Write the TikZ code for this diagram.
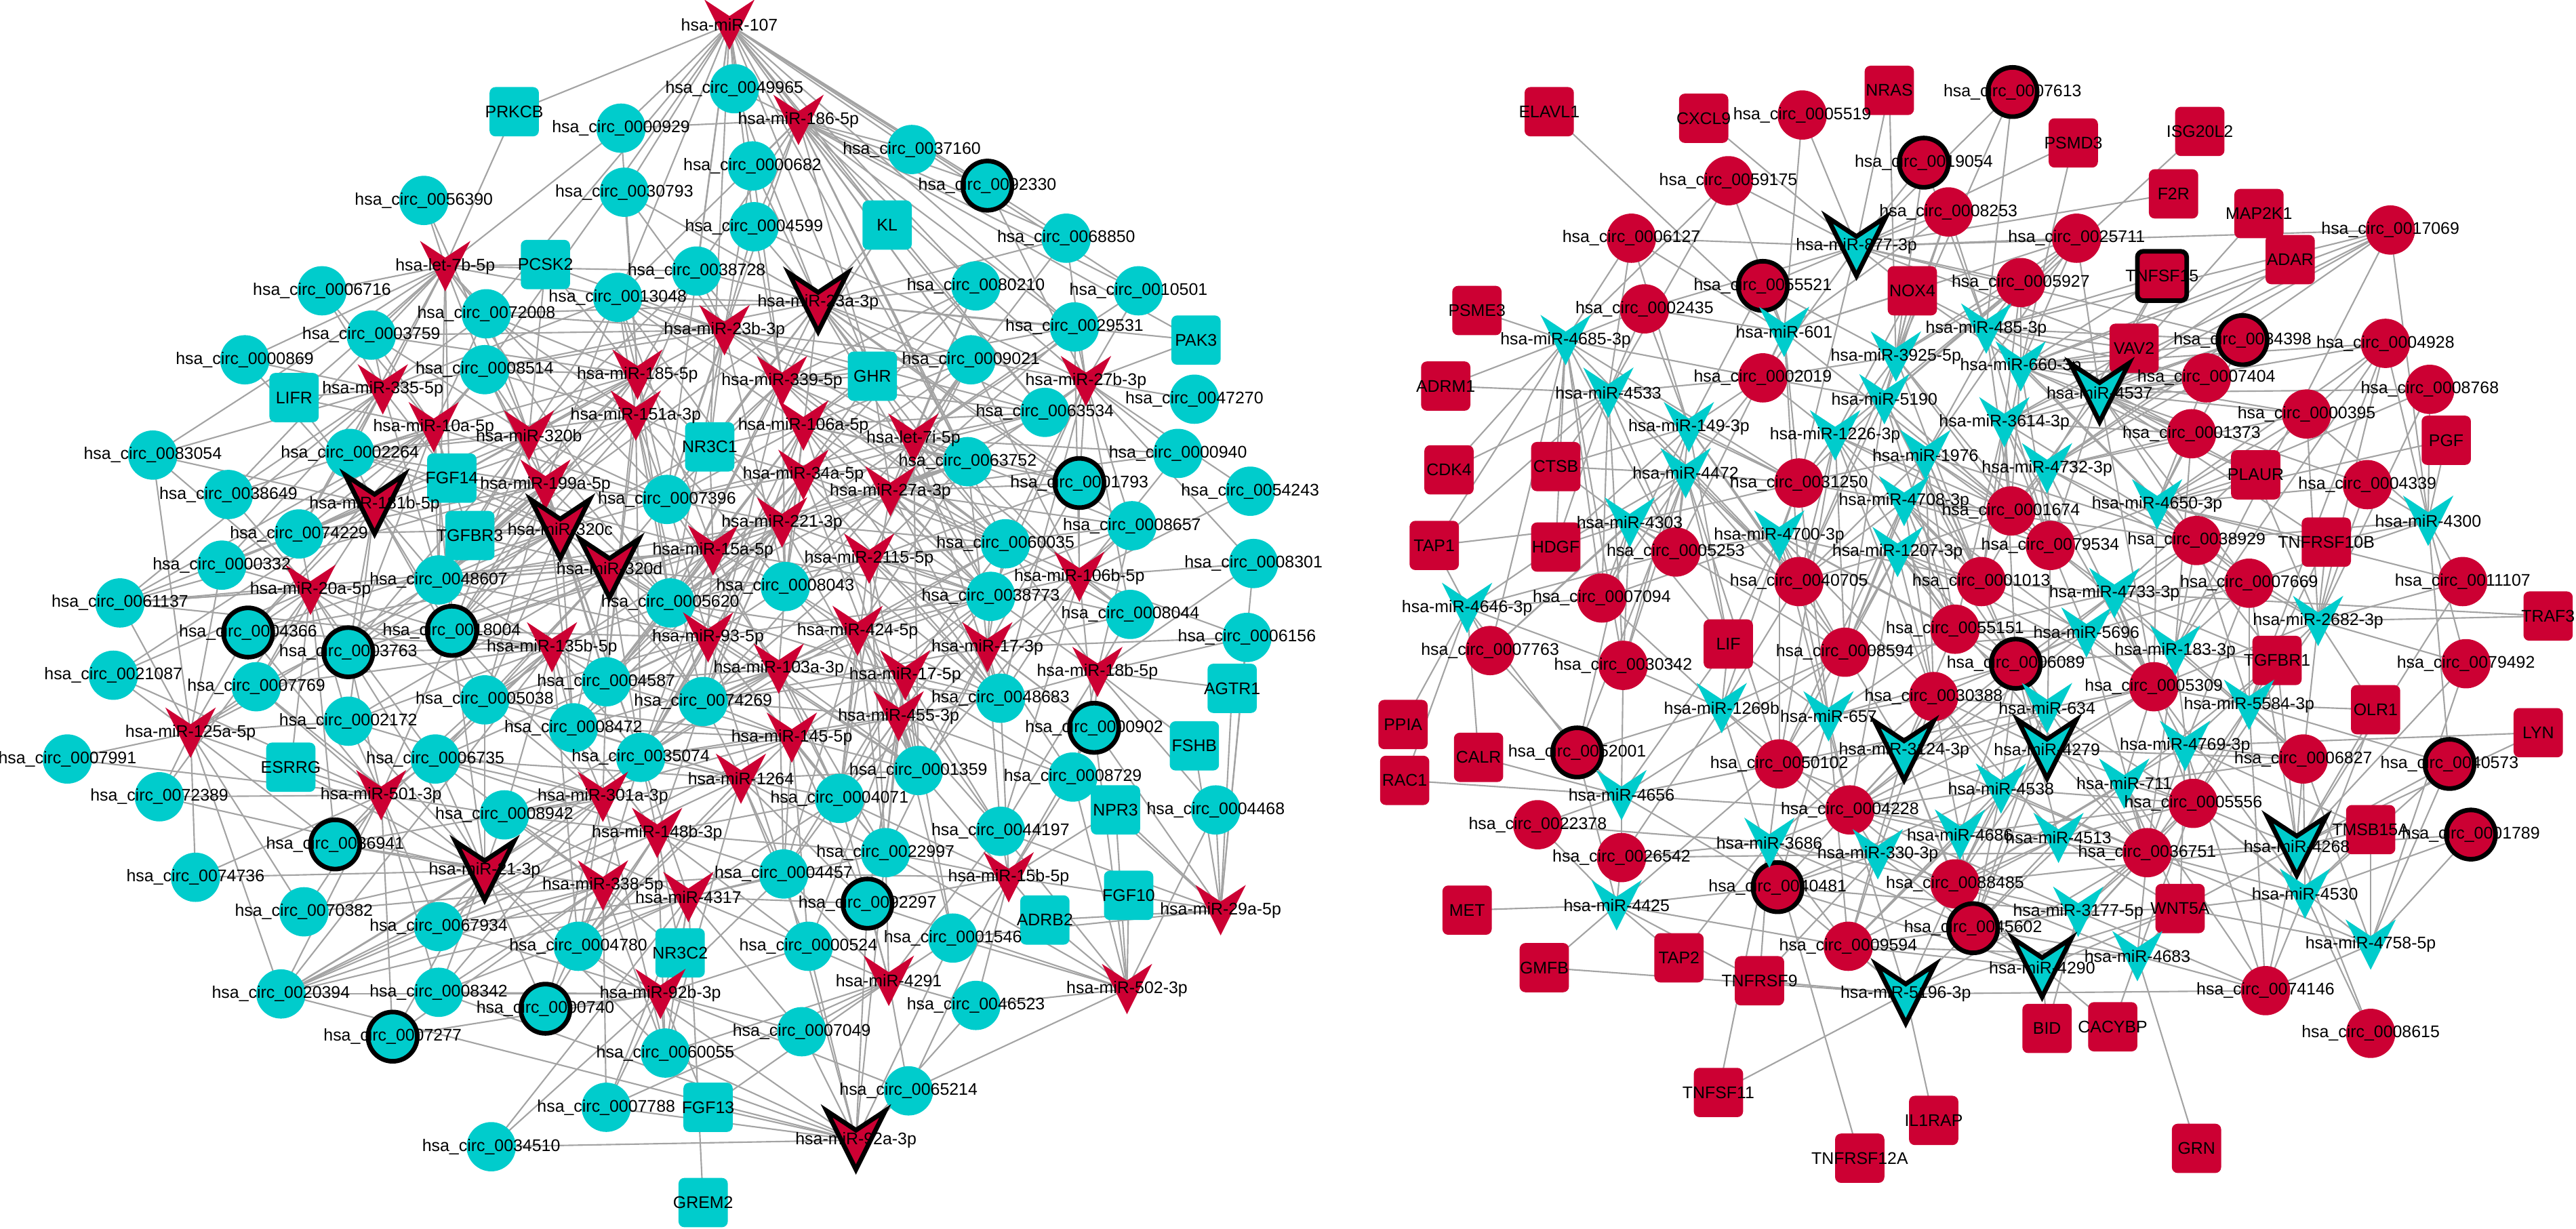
\documentclass[tikz,border=0pt]{standalone}
\usepackage{fontspec}
\setmainfont{Liberation Sans}
\usetikzlibrary{calc}

\definecolor{cyanN}{HTML}{00CCCC}
\definecolor{redN}{HTML}{CC0033}
\pgfdeclarelayer{bg}
\pgfsetlayers{bg,main}

\tikzset{
  circnode/.style={circle, inner sep=0pt, minimum size=6mm, draw=black, line width=1.6pt},
  genenode/.style={rectangle, rounded corners=2pt, inner sep=0pt, minimum size=6mm, draw=black, line width=1.6pt},
  mirnode/.style={rectangle, inner sep=0pt},
  mirv/.style={draw=black, line width=1.6pt, line join=miter},
  link/.style={draw=black!36, line width=0.5pt},
  lab/.style={font=\fontsize{5.85}{7}\selectfont, inner sep=0pt, text=black}
}

% left network
\newcommand\circsL{0049965/447/54/0, 0000929/378/78/0, 0037160/555/91/0, 0092330/601/113/1, 0000682/458/101/0, 0056390/258/122/0, 0030793/380/117/0, 0004599/459/138/0, 0068850/649/145/0, 0038728/424/165/0, 0080210/594/174/0, 0010501/693/177/0, 0006716/196/177/0, 0072008/296/191/0, 0013048/376/181/0, 0029531/654/199/0, 0003759/226/204/0, 0009021/591/219/0, 0000869/149/219/0, 0008514/295/225/0, 0047270/727/243/0, 0063534/636/251/0, 0083054/93/277/0, 0002264/213/276/0, 0000940/717/276/0, 0038649/139/301/0, 0063752/589/281/0, 0001793/657/294/1, 0054243/761/299/0, 0074229/182/325/0, 0007396/406/304/0, 0008657/689/320/0, 0000332/135/344/0, 0060035/612/331/0, 0008301/763/343/0, 0048607/267/353/0, 0005620/408/367/0, 0008043/478/357/0, 0038773/603/363/0, 0061137/73/367/0, 0004366/151/385/1, 0018004/275/384/1, 0008044/688/374/0, 0006156/759/388/0, 0003763/212/397/1, 0021087/69/411/0, 0007769/156/418/0, 0004587/369/415/0, 0074269/428/427/0, 0048683/609/425/0, 0005038/295/426/0, 0008472/349/443/0, 0002172/212/439/0, 0000902/666/443/1, 0007991/41/462/0, 0006735/265/462/0, 0035074/390/461/0, 0001359/559/469/0, 0008729/653/473/0, 0072389/97/485/0, 0004071/511/486/0, 0004468/740/493/0, 0008942/307/496/0, 0044197/609/506/0, 0022997/539/519/0, 0036941/204/514/1, 0074736/119/534/0, 0004457/477/532/0, 0092297/528/550/1, 0070382/185/555/0, 0067934/267/564/0, 0004780/352/576/0, 0000524/492/576/0, 0001546/580/571/0, 0020394/171/605/0, 0008342/267/604/0, 0000740/332/614/1, 0046523/594/612/0, 0007277/239/631/1, 0007049/488/628/0, 0060055/405/641/0, 0065214/553/664/0, 0007788/369/674/0, 0034510/299/698/0}
\newcommand\genesL{PRKCB/313/68/0, KL/540/137/0, PCSK2/332/161/0, PAK3/728/207/0, GHR/531/229/0, LIFR/179/242/0, NR3C1/432/272/0, FGF14/275/291/0, TGFBR3/286/326/0, AGTR1/750/419/0, ESRRG/177/467/0, FSHB/727/454/0, NPR3/679/493/0, FGF10/687/545/0, ADRB2/636/560/0, NR3C2/414/580/0, FGF13/431/674/0, GREM2/428/732/0}
\newcommand\mirsL{miR-107/444/15/0, miR-186-5p/486/73/0, let-7b-5p/271/162/0, miR-23a-3p/498/184/1, miR-23b-3p/441/201/0, miR-185-5p/388/228/0, miR-339-5p/476/232/0, miR-27b-3p/661/232/0, miR-335-5p/233/237/0, miR-10a-5p/264/260/0, miR-320b/322/265/0, miR-151a-3p/387/253/0, miR-106a-5p/489/259/0, let-7i-5p/556/267/0, miR-199a-5p/332/295/0, miR-181b-5p/228/307/1, miR-320c/341/322/1, miR-34a-5p/489/289/0, miR-27a-3p/542/299/0, miR-221-3p/476/318/0, miR-320d/371/346/1, miR-15a-5p/434/335/0, miR-2115-5p/529/340/0, miR-20a-5p/189/359/0, miR-106b-5p/657/351/0, miR-93-5p/431/388/0, miR-424-5p/522/384/0, miR-17-3p/601/394/0, miR-135b-5p/336/394/0, miR-103a-3p/474/407/0, miR-17-5p/551/411/0, miR-18b-5p/668/409/0, miR-455-3p/547/436/0, miR-125a-5p/116/446/0, miR-145-5p/482/449/0, miR-1264/451/474/0, miR-501-3p/232/484/0, miR-301a-3p/367/485/0, miR-148b-3p/400/507/0, miR-21-3p/295/530/1, miR-338-5p/367/539/0, miR-4317/419/546/0, miR-15b-5p/614/534/0, miR-29a-5p/743/554/0, miR-4291/541/597/0, miR-502-3p/686/602/0, miR-92b-3p/402/605/0, miR-92a-3p/521/694/1}

% right network
\newcommand\circsR{0005519/1097/70/0, 0007613/1225/56/1, 0019054/1171/99/1, 0059175/1052/110/0, 0008253/1186/129/0, 0025711/1264/145/0, 0006127/993/145/0, 0017069/1455/140/0, 0055521/1073/174/1, 0005927/1230/172/0, 0002435/1001/188/0, 0034398/1365/207/1, 0004928/1452/209/0, 0002019/1073/230/0, 0007404/1343/230/0, 0008768/1479/237/0, 0000395/1404/252/0, 0001373/1334/264/0, 0031250/1095/294/0, 0004339/1441/295/0, 0005253/1020/336/0, 0001674/1224/311/0, 0040705/1095/354/0, 0079534/1248/332/0, 0038929/1337/329/0, 0011107/1499/354/0, 0007094/975/364/0, 0001013/1206/354/0, 0007669/1369/355/0, 0007763/907/396/0, 0030342/988/405/0, 0008594/1123/397/0, 0055151/1190/383/0, 0006089/1227/404/1, 0079492/1501/404/0, 0030388/1177/424/0, 0005309/1311/418/0, 0052001/960/458/1, 0050102/1083/465/0, 0006827/1402/462/0, 0040573/1491/465/1, 0022378/936/502/0, 0004228/1126/493/0, 0005556/1335/489/0, 0001789/1504/508/1, 0026542/987/522/0, 0036751/1307/519/0, 0040481/1082/540/1, 0088485/1190/538/0, 0045602/1201/565/1, 0009594/1125/576/0, 0074146/1379/603/0, 0008615/1443/629/0}
\newcommand\genesR{ELAVL1/943/68/0, CXCL9/1037/72/0, NRAS/1150/55/0, PSMD3/1262/87/0, ISG20L2/1339/80/0, F2R/1323/118/0, MAP2K1/1375/130/0, ADAR/1394/158/0, TNFSF15/1316/168/1, PSME3/899/189/0, NOX4/1164/177/0, VAV2/1299/212/0, ADRM1/880/235/0, PGF/1489/268/0, CDK4/882/286/0, CTSB/947/284/0, PLAUR/1373/289/0, TAP1/873/332/0, HDGF/947/333/0, TNFRSF10B/1416/330/0, LIF/1052/392/0, TRAF3/1551/375/0, TGFBR1/1386/402/0, PPIA/854/441/0, OLR1/1446/432/0, LYN/1545/446/0, CALR/900/461/0, RAC1/855/475/0, TMSB15A/1443/505/0, MET/893/554/0, WNT5A/1327/553/0, GMFB/940/589/0, TAP2/1022/583/0, TNFRSF9/1071/597/0, BID/1246/626/0, CACYBP/1286/625/0, TNFSF11/1046/665/0, IL1RAP/1177/682/0, TNFRSF12A/1132/705/0, GRN/1337/699/0}
\newcommand\mirsR{miR-877-3p/1130/150/1, miR-4685-3p/953/207/0, miR-601/1086/202/0, miR-3925-5p/1154/217/0, miR-4533/979/239/0, miR-5190/1147/243/0, miR-485-3p/1209/200/0, miR-660-3p/1230/223/0, miR-4537/1278/239/1, miR-149-3p/1028/260/0, miR-1226-3p/1117/265/0, miR-1976/1172/277/0, miR-3614-3p/1220/257/0, miR-4472/1026/288/0, miR-4708-3p/1159/305/0, miR-4303/992/318/0, miR-4700-3p/1083/326/0, miR-1207-3p/1155/336/0, miR-4732-3p/1246/285/0, miR-4650-3p/1313/307/0, miR-4300/1478/317/0, miR-4733-3p/1287/361/0, miR-4646-3p/893/370/0, miR-2682-3p/1411/378/0, miR-5696/1270/385/0, miR-183-3p/1324/396/0, miR-634/1246/431/0, miR-5584-3p/1369/429/0, miR-1269b/1048/431/0, miR-657/1113/436/0, miR-3124-3p/1159/457/1, miR-4279/1246/456/1, miR-4769-3p/1330/454/0, miR-4538/1218/480/0, miR-711/1293/477/0, miR-4656/987/484/0, miR-3686/1077/513/0, miR-330-3p/1143/520/0, miR-4686/1193/508/0, miR-4513/1253/510/0, miR-4268/1398/515/1, miR-4530/1403/544/0, miR-3177-5p/1265/555/0, miR-4683/1301/582/0, miR-4290/1243/589/1, miR-4758-5p/1443/575/0, miR-5196-3p/1160/605/1, miR-4425/984/551/0}

\begin{document}
\begin{tikzpicture}[x=0.02cm, y=-0.02cm]
\useasboundingbox (0,0) rectangle (1568,748);

% nodes
\foreach \id/\px/\py/\rg in \circsL
  \node[circnode, fill=cyanN, draw opacity=\rg] (c\id) at (\px,\py) {};
\foreach \nm/\px/\py/\rg in \genesL
  \node[genenode, fill=cyanN, draw opacity=\rg] (\nm) at (\px,\py) {};
\foreach \nm/\px/\py/\rg in \mirsL {
  \node[mirnode, minimum size={(6+\rg)*1mm}] (\nm) at (\px,\py) {};
  \filldraw[mirv, fill=redN, draw opacity=\rg] (\nm.north west) -- ($(\nm.north)!.33!(\nm.south)$) -- (\nm.north east) -- (\nm.south) -- cycle;
}
\foreach \id/\px/\py/\rg in \circsR
  \node[circnode, fill=redN, draw opacity=\rg] (c\id) at (\px,\py) {};
\foreach \nm/\px/\py/\rg in \genesR
  \node[genenode, fill=redN, draw opacity=\rg] (\nm) at (\px,\py) {};
\foreach \nm/\px/\py/\rg in \mirsR {
  \node[mirnode, minimum size={(6+\rg)*1mm}] (\nm) at (\px,\py) {};
  \filldraw[mirv, fill=cyanN, draw opacity=\rg] (\nm.north west) -- ($(\nm.north)!.33!(\nm.south)$) -- (\nm.north east) -- (\nm.south) -- cycle;
}

% interactions
\begin{pgfonlayer}{bg}
\foreach \nm/\ts in {
  miR-107/{c0049965,c0000929,c0000682,c0030793,c0004599,c0038728,c0013048,c0037160,c0092330,c0080210,c0072008,PRKCB,KL,c0009021,c0068850,GHR,c0007396,c0063534,c0029531,c0010501,c0063752,NR3C1,c0008514},
  miR-186-5p/{c0049965,c0000682,c0004599,c0037160,c0092330,c0068850,KL,c0080210,c0029531,c0009021,c0038728,c0063752,c0010501,PAK3,c0000929,c0007396,c0063534,GHR,c0013048,c0060035},
  let-7b-5p/{c0056390,PCSK2,c0072008,c0006716,c0003759,c0008514,c0013048,PRKCB,c0000929,c0048607,c0002264,c0007396,c0005620,c0038728,c0000869,c0083054,c0074229,c0038649,LIFR,c0018004},
  miR-23a-3p/{c0004599,c0000682,c0038728,c0013048,KL,GHR,c0080210,c0009021,c0068850,c0029531,c0063534,c0007396,c0072008,c0063752,c0060035,c0008043,c0005620,PAK3,c0030793,c0049965,c0001793,c0008657,NR3C1,c0038773,c0008514,c0048607},
  miR-23b-3p/{c0038728,c0013048,c0030793,c0004599,c0072008,c0008514,c0007396,GHR,c0009021,c0063534,NR3C1,c0005620,c0003759,PCSK2,c0000682,c0063752,c0008043,FGF14,c0048607,c0060035},
  miR-185-5p/{c0013048,c0030793,c0072008,c0008514,PCSK2,c0038728,FGF14,c0007396,c0048607,TGFBR3,c0005620,c0002264,c0000929,c0018004,c0004587,NR3C1,c0003759,c0074229},
  miR-339-5p/{c0004599,c0038728,c0013048,GHR,KL,c0009021,c0007396,c0063752,NR3C1,c0008043,c0060035,c0080210,c0000682,c0063534,c0038773,c0005620,c0074269,c0029531},
  miR-27b-3p/{c0029531,c0010501,PAK3,c0047270,c0009021,c0080210,c0063534,c0000940,c0054243,c0001793,c0008657,c0063752,c0068850,c0060035,c0092330,c0008301,c0038773,c0048683,c0008044,c0004599},
  miR-335-5p/{LIFR,c0003759,c0000869,c0006716,c0008514,c0002264,c0038649,c0074229,c0072008,c0083054,FGF14,c0061137,c0000332,c0048607,c0013048},
  miR-10a-5p/{c0002264,c0008514,c0072008,c0003759,FGF14,c0074229,c0038649,LIFR,c0048607,TGFBR3,c0000332,c0061137,c0006716,c0018004,c0004366,c0003763,c0007396},
  miR-320b/{c0008514,c0013048,FGF14,TGFBR3,c0002264,c0048607,c0072008,c0007396,c0005620,c0018004,c0038728,PCSK2,c0056390,c0074229,c0003759,c0004587,c0003763},
  miR-151a-3p/{c0013048,c0007396,NR3C1,c0038728,c0008514,FGF14,c0005620,c0048607,c0004587,c0008043,c0072008,c0002264,c0018004,c0074269,c0035074},
  miR-106a-5p/{NR3C1,c0007396,c0063752,c0063534,GHR,c0009021,c0005620,c0008043,c0060035,c0038773,c0074269,c0001793,c0004587,c0080210,c0013048,c0048683,c0035074,c0001359},
  let-7i-5p/{c0063534,c0063752,c0009021,GHR,c0001793,c0060035,c0038773,c0008043,c0007396,c0008657,c0048683,c0080210,c0029531,c0068850,c0010501,c0000940,c0005620,c0001359,c0008044},
  miR-199a-5p/{FGF14,TGFBR3,c0048607,c0018004,c0008514,c0007396,c0005620,c0002264,c0074229,c0004587,c0005038,c0013048,c0003763,c0008472,c0035074,c0061137},
  miR-181b-5p/{c0002264,c0074229,c0038649,c0000332,FGF14,TGFBR3,c0048607,c0004366,c0003763,c0018004,c0061137,c0083054,LIFR,c0007769,c0000869,c0005038,c0008514,c0002172,c0021087},
  miR-320c/{TGFBR3,c0048607,c0018004,c0005620,c0007396,c0004587,c0005038,c0008472,c0003763,FGF14,NR3C1,c0074269,c0008514,c0002264,c0074229,c0035074,c0007769,c0004366},
  miR-34a-5p/{NR3C1,c0007396,c0063752,c0008043,c0005620,c0060035,c0038773,GHR,c0074269,c0063534,c0004587,c0080210,c0009021,c0001359,c0035074,c0048683},
  miR-27a-3p/{c0063752,c0063534,c0060035,c0038773,c0008043,c0001793,c0009021,c0048683,c0008657,GHR,c0005620,c0000940,c0029531,c0080210,c0004071,c0008044,c0074269},
  miR-221-3p/{c0007396,c0008043,c0005620,NR3C1,c0063752,c0060035,c0074269,c0004587,c0038773,c0035074,c0048607,c0013048,c0008472,c0048683,c0001359,c0018004},
  miR-320d/{c0005620,c0004587,c0018004,TGFBR3,c0048607,c0007396,c0074269,c0008472,c0005038,c0003763,c0035074,c0008043,c0061137,c0002172,c0006735,c0001359,c0063752,c0004366},
  miR-15a-5p/{c0005620,c0007396,NR3C1,c0008043,c0074269,c0004587,c0035074,c0048607,c0018004,c0063752,c0008472,c0061137,c0013048,c0005038,c0004071,c0038773,c0002264},
  miR-2115-5p/{c0008043,c0060035,c0038773,c0063752,c0048683,c0005620,c0001359,c0074269,c0001793,c0008657,c0009021,c0008044,c0004071,c0000902,c0022997},
  miR-20a-5p/{c0000332,c0074229,c0004366,c0003763,c0007769,c0061137,c0048607,c0018004,c0021087,c0002172,c0038649,ESRRG,c0005038,c0006735,c0036941,c0072389,c0083054},
  miR-106b-5p/{c0060035,c0038773,c0008657,c0008044,c0001793,c0054243,c0008301,c0006156,c0048683,c0000902,c0063752,c0000940,c0029531,c0009021,c0044197,c0001359},
  miR-93-5p/{c0005620,c0074269,c0004587,c0008043,c0035074,c0008472,c0007396,c0005038,c0048607,c0001359,c0004071,c0018004,c0004457,c0022997,c0038773,c0006735},
  miR-424-5p/{c0008043,c0038773,c0048683,c0060035,c0074269,c0001359,c0004071,c0005620,c0063752,c0004457,c0022997,c0044197,c0008657,c0035074},
  miR-17-3p/{c0038773,c0048683,c0060035,c0008044,c0008657,c0001359,c0000902,c0008729,c0044197,c0063752,c0004071,c0022997,c0001793,c0006156,c0074269},
  miR-135b-5p/{c0018004,c0005038,c0008472,c0004587,c0003763,c0048607,c0006735,c0002172,c0035074,c0005620,c0074269,c0061137,c0020394,c0007769,c0008942,c0004780,c0036941,c0004366},
  miR-103a-3p/{c0074269,c0008043,c0004587,c0035074,c0004071,c0001359,c0005620,c0004457,c0008472,c0038773,c0022997,c0008942,c0048683,c0060035,c0007396},
  miR-17-5p/{c0048683,c0038773,c0001359,c0004071,c0008043,c0060035,c0022997,c0044197,c0074269,c0004457,c0092297,c0001546,c0005620,c0008729},
  miR-18b-5p/{c0008044,c0048683,c0000902,c0008729,c0006156,AGTR1,c0038773,c0008301,FSHB,c0060035,c0044197,c0004468,c0008657},
  miR-455-3p/{c0048683,c0001359,c0004071,c0022997,c0074269,c0038773,c0044197,c0008043,c0004457,c0092297,c0001546,c0000524,c0008729,c0035074},
  miR-125a-5p/{c0021087,c0007991,c0072389,c0007769,c0004366,c0061137,c0074736,c0002172,ESRRG,c0036941,c0000332,c0083054,c0003763,c0070382,c0020394,c0048607},
  miR-145-5p/{c0074269,c0035074,c0004071,c0001359,c0004457,c0004587,c0008472,c0022997,c0048683,c0008942,c0020394,c0092297,c0000524,c0004780,c0005038,c0038773},
  miR-1264/{c0035074,c0074269,c0004071,c0004457,c0008942,c0004780,c0000524,c0022997,c0008472,c0020394,c0001359,c0092297,c0060055,c0006735,c0005038},
  miR-501-3p/{c0002172,c0006735,ESRRG,c0036941,c0005038,c0007769,c0003763,c0008942,c0072389,c0070382,c0067934,c0020394,c0074736,c0021087,c0007991,c0004366,c0018004,c0008342,c0007277},
  miR-301a-3p/{c0035074,c0008472,c0008942,c0006735,c0005038,c0004587,c0004780,c0074269,c0002172,c0067934,c0020394,c0036941,c0008342,c0000740,c0060055,c0018004},
  miR-148b-3p/{c0008942,c0035074,c0004780,c0004457,c0004071,c0000524,c0008472,c0074269,NR3C2,c0020394,c0067934,c0000740,c0022997,c0006735,c0060055},
  miR-21-3p/{c0008942,c0036941,c0006735,c0067934,c0070382,c0004780,c0002172,ESRRG,c0008342,c0000740,c0020394,c0035074,c0005038,c0007277,c0074736,c0072389,c0007769,c0003763,c0018004,c0060055},
  miR-338-5p/{c0004780,c0008942,c0067934,c0000740,NR3C2,c0035074,c0008342,c0006735,c0060055,c0020394,c0007277,c0004457,c0036941,c0070382,c0007788},
  miR-4317/{NR3C2,c0004780,c0004457,c0000524,c0008942,c0060055,c0035074,c0022997,c0092297,GREM2,c0034510,c0020394,c0007049,c0067934,c0008342,c0007788,c0004071},
  miR-15b-5p/{c0044197,c0022997,c0001546,ADRB2,c0092297,c0008729,FGF10,c0000902,c0004457,c0048683,NPR3,c0001359,c0046523,c0065214,c0004071},
  miR-29a-5p/{FGF10,c0004468,NPR3,ADRB2,c0008729,FSHB,c0001546,c0044197,AGTR1,c0000902,c0006156,c0008301},
  miR-4291/{c0000524,c0092297,c0001546,c0046523,c0007049,c0065214,c0022997,c0004457,c0060055,c0044197,c0004071,c0007788,FGF13},
  miR-502-3p/{ADRB2,FGF10,c0001546,c0046523,c0044197,NPR3,c0092297,c0065214,c0004468,c0008729,c0000902,c0022997},
  miR-92b-3p/{NR3C2,c0060055,c0004780,c0000740,c0007788,c0000524,c0007049,c0008342,FGF13,c0007277,c0020394,c0004457,c0067934,c0034510,c0065214},
  miR-92a-3p/{c0065214,c0007049,c0060055,FGF13,c0007788,c0046523,c0001546,c0000524,c0034510,c0092297,c0004457,c0022997,c0020394,c0008342,c0004780},
  miR-877-3p/{c0005519,c0019054,c0059175,c0008253,c0055521,NOX4,c0006127,c0002435,c0005927,c0025711,NRAS,c0002019,CXCL9,c0007613,F2R,c0017069,c0031250,VAV2,c0034398,PSMD3},
  miR-4685-3p/{PSME3,c0006127,c0002435,ADRM1,c0002019,CTSB,c0005253,c0007094,HDGF,c0031250,c0040705,c0059175,c0030342,c0007763,TAP1,CDK4},
  miR-601/{c0055521,c0002435,c0006127,c0002019,c0059175,c0031250,c0005519,NOX4,c0008253,ELAVL1,c0040705,c0005253,c0025711,c0001674},
  miR-3925-5p/{NOX4,c0002019,c0055521,c0008253,c0005927,c0019054,c0031250,c0001674,c0025711,NRAS,c0040705,c0079534,c0001013,c0007613},
  miR-4533/{c0002435,c0006127,ADRM1,c0002019,CTSB,CDK4,c0005253,c0007094,HDGF,c0031250,TAP1,c0040705,c0030342,c0059175},
  miR-5190/{c0002019,NOX4,c0031250,c0005927,c0001674,c0040705,c0008253,c0055151,c0001013,c0079534,c0008594,c0006089,c0025711},
  miR-485-3p/{c0005927,c0008253,c0025711,NOX4,VAV2,c0001674,c0019054,c0007404,c0001373,c0007613,ISG20L2,c0017069,c0034398,c0079534,c0038929,TNFSF15},
  miR-660-3p/{c0005927,c0025711,VAV2,c0001674,c0079534,NOX4,c0001373,c0034398,c0038929,TNFSF15,PSMD3,ADAR,c0017069,c0004928,c0007404,c0000395,c0001013,PLAUR},
  miR-4537/{VAV2,c0025711,TNFSF15,c0007404,c0001373,c0034398,c0001674,c0079534,c0038929,c0000395,PLAUR,ADAR,MAP2K1,c0017069,c0004928,c0008768,c0007669,c0004339,c0005309,TNFRSF10B},
  miR-149-3p/{c0002019,c0031250,c0005253,c0002435,c0007094,CTSB,c0040705,HDGF,c0006127,c0008594,c0055521,LIF,c0030342},
  miR-1226-3p/{c0002019,c0031250,c0040705,c0001674,c0055151,c0001013,c0008594,NOX4,c0079534,c0030388,c0050102,c0005927},
  miR-1976/{c0001674,c0001013,c0031250,c0055151,c0079534,c0040705,c0008594,c0005927,c0006089,c0030388,c0038929,c0025711},
  miR-3614-3p/{c0001674,c0079534,c0005927,VAV2,c0001373,c0001013,c0038929,c0055151,c0017069,c0034398,c0007404,c0005309,c0006089},
  miR-4472/{c0031250,c0005253,c0007094,CTSB,HDGF,c0040705,c0002019,c0030342,LIF,c0008594,c0050102,c0052001,c0007763},
  miR-4708-3p/{c0031250,c0001674,c0040705,c0001013,c0055151,c0079534,c0008594,c0006089,c0030388,c0005309,c0038929,c0050102},
  miR-4303/{c0005253,c0007094,HDGF,CTSB,c0030342,c0040705,c0007763,LIF,TAP1,c0008594,c0052001,c0031250},
  miR-4700-3p/{c0031250,c0040705,c0005253,LIF,c0008594,c0055151,c0007094,c0030388,c0050102,c0004228,c0001013,c0006089},
  miR-1207-3p/{c0040705,c0001013,c0055151,c0008594,c0079534,c0030388,c0006089,c0001674,c0004228,c0050102,c0005309,c0036751},
  miR-4732-3p/{c0001674,c0079534,c0001373,c0038929,c0001013,c0034398,c0007404,c0017069,c0007669,c0005309,c0000395,TNFSF15},
  miR-4650-3p/{c0038929,c0079534,c0001373,PLAUR,c0007669,c0000395,c0005309,TNFRSF10B,c0004928,c0008768,PGF,c0011107,c0034398,c0007404,TGFBR1,c0004339},
  miR-4300/{c0004339,PGF,c0011107,TNFRSF10B,c0008768,c0000395,c0004928,c0017069,c0079492,c0007669,c0038929,c0040573},
  miR-4733-3p/{c0079534,c0038929,c0001013,c0005309,c0006089,c0007669,c0055151,TRAF3,c0004928,c0006827,c0005556,TGFBR1,c0004228},
  miR-4646-3p/{c0007763,c0007094,HDGF,TAP1,PPIA,c0030342,CALR,c0052001,RAC1,c0005253},
  miR-2682-3p/{TNFRSF10B,c0007669,TGFBR1,c0011107,OLR1,c0079492,c0004339,c0006827,TRAF3,c0004928,c0008768,c0005309,c0005556,c0038929,PLAUR,c0000395},
  miR-5696/{c0006089,c0005309,c0079534,c0001013,c0055151,c0030388,c0038929,c0004228,c0036751,c0007669,c0008594},
  miR-183-3p/{c0005309,c0038929,c0007669,TGFBR1,c0006089,c0005556,c0004928,c0017069,c0006827,c0036751,c0079534,c0001373},
  miR-634/{c0006089,c0030388,c0005309,c0036751,c0004228,c0088485,c0005556,c0050102,c0055151,c0045602},
  miR-5584-3p/{TGFBR1,c0005309,c0007669,c0006827,OLR1,c0005556,c0040573,c0004928,c0036751,c0038929,TNFRSF10B,c0074146},
  miR-1269b/{LIF,c0030342,c0008594,c0050102,c0040705,c0052001,c0007094,c0004228,c0026542,c0040481,c0031250},
  miR-657/{c0008594,c0050102,c0030388,c0004228,LIF,c0040705,c0055151,c0040481,c0009594,c0006089,c0031250},
  miR-3124-3p/{c0030388,c0050102,c0004228,c0008594,c0055151,c0088485,c0006089,c0040481,c0009594,c0045602,c0036751,c0005309},
  miR-4279/{c0006089,c0030388,c0005309,c0004228,c0036751,c0088485,c0005556,c0045602,c0009594,c0006827,c0079534},
  miR-4769-3p/{c0005309,c0005556,c0006827,c0036751,WNT5A,TGFBR1,LYN,c0074146,c0007669,c0088485,TMSB15A},
  miR-4538/{c0004228,c0088485,c0036751,c0030388,c0045602,c0006089,c0009594,c0005309,c0040481,c0005556},
  miR-711/{c0005556,c0036751,c0005309,WNT5A,c0006827,c0088485,c0045602,c0074146,TGFBR1},
  miR-4656/{c0052001,c0030342,c0026542,c0022378,CALR,c0050102,LIF,RAC1,c0040481,c0007763,c0004228,c0008594},
  miR-3686/{c0040481,c0050102,c0004228,c0009594,c0026542,TNFRSF9,TAP2,TNFSF11,TNFRSF12A,c0045602,c0088485,c0030388,c0022378},
  miR-330-3p/{c0004228,c0040481,c0088485,c0009594,c0045602,c0050102,c0030388,c0036751,c0026542,TNFRSF9},
  miR-4686/{c0088485,c0004228,c0045602,c0036751,c0030388,c0009594,c0005556,c0050102,c0006089},
  miR-4513/{c0036751,c0088485,c0045602,c0005556,c0004228,c0009594,c0006089,c0030388,WNT5A},
  miR-4268/{c0006827,TMSB15A,c0005556,c0036751,c0040573,c0001789,c0074146,WNT5A,OLR1,LYN,c0079492,c0008615,c0007669,TGFBR1,c0011107,c0088485},
  miR-4530/{c0074146,TMSB15A,c0036751,WNT5A,c0006827,c0005556,c0008615,c0040573,c0001789,c0005309,OLR1},
  miR-3177-5p/{c0045602,c0036751,WNT5A,c0088485,c0009594,BID,c0004228,c0005556,c0040481,c0074146},
  miR-4683/{WNT5A,CACYBP,c0036751,c0045602,c0074146,GRN,c0088485,c0005556,c0009594},
  miR-4290/{BID,c0045602,c0009594,c0088485,c0036751,CACYBP,c0004228,c0040481,WNT5A,c0005556},
  miR-4758-5p/{c0074146,TMSB15A,c0001789,c0036751,WNT5A,c0040573,c0006827,c0005556,c0079492},
  miR-5196-3p/{c0009594,c0040481,TNFRSF9,c0045602,IL1RAP,c0088485,GMFB,c0074146,c0036751,c0004228,TNFSF11,WNT5A},
  miR-4425/{c0026542,GMFB,c0040481,MET,c0022378,TAP2,c0052001,c0050102,c0009594,TNFRSF9}}
  \foreach \tg in \ts \draw[link] (\nm.center) -- (\tg.center);
\end{pgfonlayer}

% labels on top
\foreach \id/\px/\py/\rg in \circsL \node[lab] at (c\id) {hsa\_circ\_\id};
\foreach \id/\px/\py/\rg in \circsR \node[lab] at (c\id) {hsa\_circ\_\id};
\foreach \nm/\px/\py/\rg in \genesL \node[lab] at (\nm) {\nm};
\foreach \nm/\px/\py/\rg in \genesR \node[lab] at (\nm) {\nm};
\foreach \nm/\px/\py/\rg in \mirsL \node[lab] at (\nm) {hsa-\nm};
\foreach \nm/\px/\py/\rg in \mirsR \node[lab] at (\nm) {hsa-\nm};
\end{tikzpicture}
\end{document}
